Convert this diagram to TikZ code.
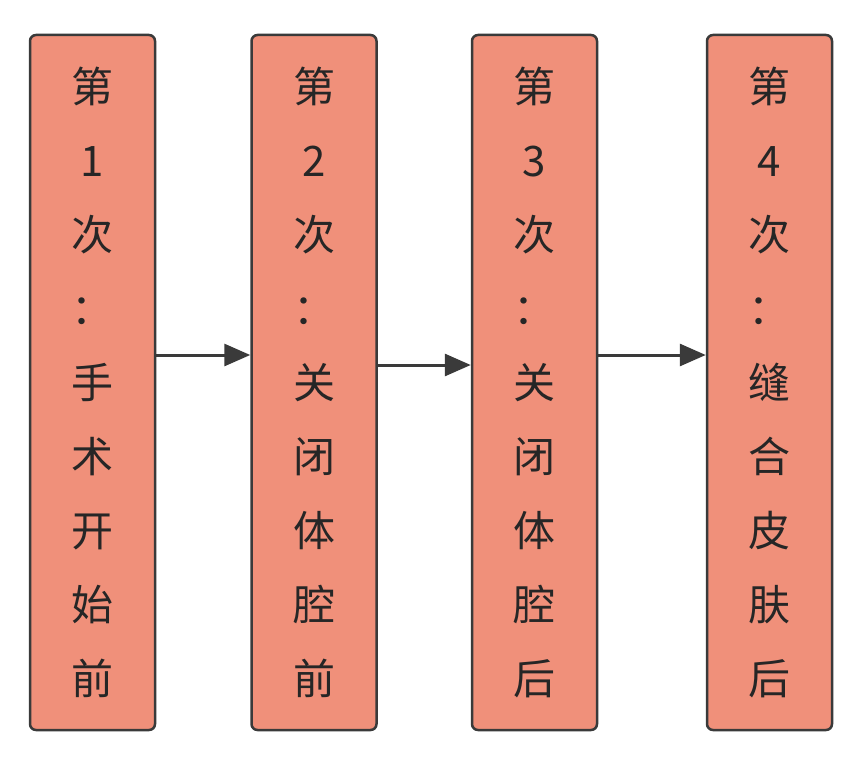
\documentclass[tikz,border=0pt]{standalone}
\usepackage{fontspec}
\newfontfamily\cjk{Noto Sans CJK SC}
\usetikzlibrary{arrows.meta}
\definecolor{boxfill}{HTML}{F0907A}
\definecolor{boxline}{HTML}{3A3A3A}
\tikzset{stepbox/.style={draw=boxline,line width=2.5pt,fill=boxfill,rounded corners=6pt,minimum width=125pt,minimum height=695pt,align=center,font=\cjk\fontsize{42}{74}\selectfont,text=black!85},
conn/.style={draw=boxline,line width=3pt,-{Triangle[length=26pt,width=22pt]}}}
\begin{document}
\begin{tikzpicture}[x=1pt,y=-1pt]
\useasboundingbox[fill=white] (0,0) rectangle (866,760);
\node[stepbox] (b1) at (92.5,382.5) {第\\1\\次\\：\\手\\术\\开\\始\\前};
\node[stepbox] (b2) at (314,382.5) {第\\2\\次\\：\\关\\闭\\体\\腔\\前};
\node[stepbox] (b3) at (534.5,382.5) {第\\3\\次\\：\\关\\闭\\体\\腔\\后};
\node[stepbox] (b4) at (769.5,382.5) {第\\4\\次\\：\\缝\\合\\皮\\肤\\后};
\draw[conn] (b1.east |- 0,355) -- (b2.west |- 0,355);
\draw[conn] (b2.east |- 0,365) -- (b3.west |- 0,365);
\draw[conn] (b3.east |- 0,355) -- (b4.west |- 0,355);
\end{tikzpicture}
\end{document}
